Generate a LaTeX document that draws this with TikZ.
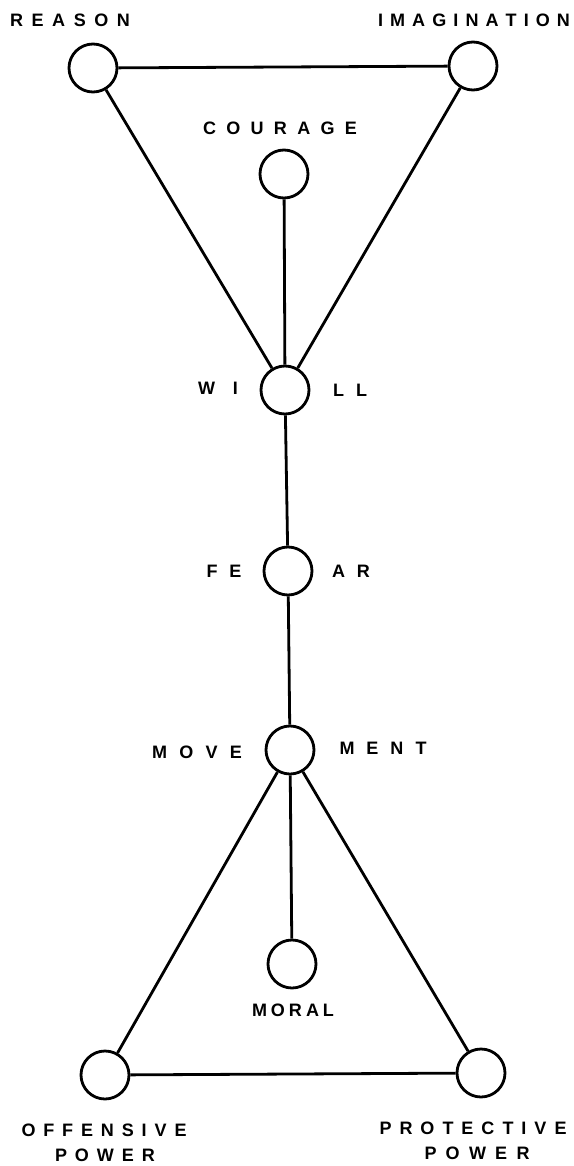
\documentclass[tikz,border=0pt]{standalone}
\usepackage{fontspec}
\setmainfont{Liberation Sans}
\makeatletter
\def\spreadloop#1#2\relax{#1\ifx\relax#2\relax\else\hfill\spreadloop#2\relax\fi}
\newcommand\lbl[2]{\makebox[#1][s]{\spreadloop#2\relax}}
\makeatother
\begin{document}
\begin{tikzpicture}[x=1pt,y=-1pt,
  dot/.style={circle,draw,line width=2.8pt,minimum size=48pt,inner sep=0pt},
  word/.style={inner sep=0pt,font=\fontsize{18pt}{20pt}\selectfont\bfseries},
  link/.style={line width=2.8pt}]
\useasboundingbox (0,0) rectangle (573,1166);
% circles
\node[dot] (R) at (93,68) {};
\node[dot] (I) at (473,66) {};
\node[dot] (C) at (284,174) {};
\node[dot] (W) at (285,390) {};
\node[dot] (F) at (288,571) {};
\node[dot] (M) at (290,750) {};
\node[dot] (Mo) at (292,964) {};
\node[dot] (O) at (105,1075) {};
\node[dot] (P) at (481,1073) {};
% labels
\node[word] (tR) at (70,20) {\lbl{120pt}{REASON}};
\node[word] (tI) at (474,20) {\lbl{192pt}{IMAGINATION}};
\node[word] (tC) at (280,128) {\lbl{154pt}{COURAGE}};
\node[word] (tW1) at (218,388) {\lbl{40pt}{WI}};
\node[word] (tW2) at (350,390) {\lbl{34pt}{LL}};
\node[word] (tF1) at (224,571) {\lbl{35pt}{FE}};
\node[word] (tF2) at (351,571) {\lbl{38pt}{AR}};
\node[word] (tM1) at (197,752) {\lbl{90pt}{MOVE}};
\node[word] (tM2) at (383,748) {\lbl{87pt}{MENT}};
\node[word] (tMo) at (293,1010) {\lbl{82pt}{MORAL}};
\node[word] (tO1) at (104,1130) {\lbl{165pt}{OFFENSIVE}};
\node[word] (tO2) at (105,1155) {\lbl{100pt}{POWER}};
\node[word] (tP1) at (473,1128) {\lbl{187pt}{PROTECTIVE}};
\node[word] (tP2) at (477,1153) {\lbl{105pt}{POWER}};
% connectors
\draw[link] (R) -- (I);
\draw[link] (R) -- (W);
\draw[link] (I) -- (W);
\draw[link] (C) -- (W);
\draw[link] (W) -- (F);
\draw[link] (F) -- (M);
\draw[link] (M) -- (O);
\draw[link] (M) -- (Mo);
\draw[link] (M) -- (P);
\draw[link] (O) -- (P);
\end{tikzpicture}
\end{document}
